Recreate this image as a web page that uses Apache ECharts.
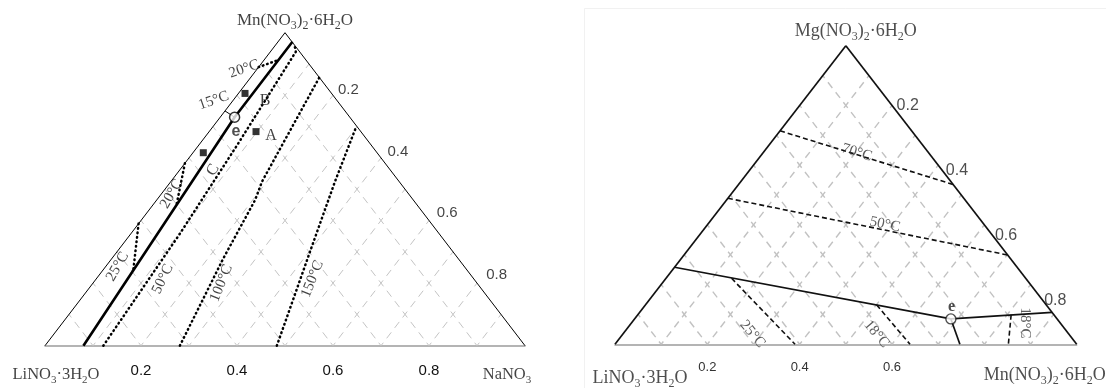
<!DOCTYPE html>
<html>
<head>
<meta charset="utf-8">
<script src="https://cdn.jsdelivr.net/npm/echarts@6/dist/echarts.min.js"></script>
<style>
  html, body { margin: 0; padding: 0; background: #fff; }
  #chart { width: 1106px; height: 388px; }
</style>
</head>
<body>
<div id="chart"></div>
<script>
// ---------- LiNO3·3H2O – NaNO3 – Mn(NO3)2·6H2O  ([NaNO3, Mn(NO3)2·6H2O] mass fractions) ----------
const naTicks = ['0.2', '0.4', '0.6', '0.8'];
const naEdgeTicks = [0.2, 0.4, 0.6, 0.8];
const naEutectic = [0.03, 0.73];
const naBoundary = [[0.08, 0], [0.03, 0.73], [0.03, 0.971]];
const naTie15 = [[0, 0.75], [0.03, 0.73]];
const naIso20Upper = [[0, 0.89], [0.03, 0.913]];
const naIso20Lower = [[0, 0.583], [0.049, 0.45]];
const naIso25 = [[0, 0.39], [0.063, 0.242]];
const naIso50 = [[0.1215, 0], [0.102, 0.359], [0.08, 0.64], [0.053, 0.939], [0.04, 0.96]];
const naIso100 = [[0.281, 0], [0.232, 0.279], [0.205, 0.4655], [0.19, 0.524], [0.143, 0.857]];
const naIso150 = [[0.483, 0], [0.402, 0.3], [0.342, 0.524], [0.298, 0.702]];
const naSampleNames = ['A', 'B', 'C'];
const naSamples = [[0.0976, 0.684], [0.0137, 0.806], [0.0215, 0.6166]];
const naIsoNames = ['20°C', '15°C', '20°C', '25°C', '50°C', '100°C', '150°C'];

// ---------- LiNO3·3H2O – Mn(NO3)2·6H2O – Mg(NO3)2·6H2O  ([Mn(NO3)2·6H2O, Mg(NO3)2·6H2O]) ----------
const mgTicks = ['0.2', '0.4', '0.6'];
const mgEdgeTicks = [0.2, 0.4, 0.6, 0.8];
const mgEutectic = [0.685, 0.085];
const mgIso70 = [[0, 0.715], [0.465, 0.535]];
const mgIso50 = [[0, 0.489], [0.701, 0.299]];
const mgBoundaryLi = [[0, 0.258], [0.685, 0.085]];
const mgBoundaryMn = [[0.685, 0.085], [0.893, 0.107]];
const mgBoundaryMg = [[0.685, 0.085], [0.747, 0]];
const mgIso25 = [[0.142, 0.221], [0.39, 0]];
const mgIso18Left = [[0.501, 0.1316], [0.639, 0]];
const mgIso18Right = [[0.8085, 0.099], [0.852, 0]];
const mgIsoNames = ['70°C', '50°C', '25°C', '18°C', '18°C'];

// ternary [bottom-right fraction, top fraction] -> plane coordinates of the triangle
const toXY = p => [p[0] + p[1] / 2, p[1]];

const SERIF = 'Liberation Serif';
const SANS = 'Liberation Sans';

function line(gi, pts, lineStyle, z) {
  return {
    type: 'line', xAxisIndex: gi, yAxisIndex: gi, data: pts.map(toXY),
    symbol: 'none', lineStyle: lineStyle, z: z || 3, silent: true, clip: false, animation: false
  };
}

function latticeSeries(gi, style) {
  const out = [];
  for (let i = 1; i < 10; i++) {
    const k = i / 10;
    out.push(line(gi, [[k, 0], [k, 1 - k]], style, 1));
    out.push(line(gi, [[1 - k, 0], [0, 1 - k]], style, 1));
  }
  return out;
}

function textSeries(gi, items, z) {
  return {
    type: 'scatter', xAxisIndex: gi, yAxisIndex: gi, symbolSize: 1,
    itemStyle: { color: 'rgba(0,0,0,0)' }, silent: true, clip: false, animation: false, z: z || 6,
    data: items.map(it => ({
      value: toXY(it.at),
      label: Object.assign({
        show: true, position: 'inside', formatter: it.text,
        rotate: it.rotate || 0, offset: it.offset || [0, 0]
      }, it.style)
    }))
  };
}

function formula(size, color) {
  const sub = Math.round(size * 0.68);
  return {
    m: { fontFamily: SERIF, fontSize: size, color: color, lineHeight: size + 5 },
    s: { fontFamily: SERIF, fontSize: sub, color: color, lineHeight: sub, verticalAlign: 'bottom' }
  };
}

const LiF = '{m|LiNO}{s|3}{m|·3H}{s|2}{m|O}';
const MnF = '{m|Mn(NO}{s|3}{m|)}{s|2}{m|·6H}{s|2}{m|O}';
const MgF = '{m|Mg(NO}{s|3}{m|)}{s|2}{m|·6H}{s|2}{m|O}';
const NaF = '{m|NaNO}{s|3}';

const dotted = { color: '#000', width: 2.5, type: [0.6, 3.9], cap: 'round' };
const dashedR = { color: '#111', width: 1.6, type: [5, 3] };
const isoText = { fontFamily: SERIF, fontSize: 15, color: '#111' };
const isoTextR = { fontFamily: SERIF, fontSize: 15, color: '#333' };

const series = [];

// ----- left panel -----
series.push(...latticeSeries(0, { color: '#c4c4c4', width: 1, type: [7.5, 5.6], dashOffset: 3.75 }));
series.push(line(0, [[0, 0], [0, 1]], { color: '#000', width: 1 }, 2));
series.push(line(0, [[1, 0], [0, 1]], { color: '#000', width: 1 }, 2));
series.push(line(0, naBoundary, { color: '#000', width: 2.6 }, 4));
series.push(line(0, naTie15, { color: '#000', width: 1 }, 4));
[naIso20Upper, naIso20Lower, naIso25, naIso50, naIso100, naIso150].forEach(d =>
  series.push(line(0, d, dotted, 3)));
series.push({
  type: 'scatter', xAxisIndex: 0, yAxisIndex: 0, symbol: 'rect', symbolSize: 7,
  itemStyle: { color: '#000' }, data: naSamples.map(toXY), z: 5, silent: true, animation: false
});
series.push({
  type: 'scatter', xAxisIndex: 0, yAxisIndex: 0, symbol: 'circle', symbolSize: 10,
  itemStyle: { color: '#fff', borderColor: '#000', borderWidth: 1.5 },
  data: [toXY(naEutectic)], z: 5, silent: true, animation: false
});
const naIsoAnchors = [[-0.027, 0.884], [-0.04, 0.783], [0.021, 0.485], [0.0245, 0.253], [0.139, 0.213], [0.2675, 0.2], [0.4507, 0.213]];
const naIsoRotate = [19, 19, 60, 60, 64, 68, 68];
series.push(textSeries(0, naIsoNames.map((t, i) => ({ at: naIsoAnchors[i], text: t, rotate: naIsoRotate[i], style: isoText }))));
const naSampleAnchors = [[0.1358, 0.67], [0.0674, 0.7818], [0.0693, 0.5613]];
const naSampleRotate = [0, 0, 60];
series.push(textSeries(0, naSampleNames.map((t, i) => ({ at: naSampleAnchors[i], text: t, rotate: naSampleRotate[i], style: { fontFamily: SERIF, fontSize: 16, color: '#111' } }))));
series.push(textSeries(0, [{ at: [0.0565, 0.6827], text: 'e', style: { fontFamily: SANS, fontSize: 16, fontWeight: 'bold', color: '#222' } }]));
series.push(textSeries(0, naEdgeTicks.map(t => ({
  at: [t, 1 - t], text: t.toFixed(1), offset: [5 + (t - 0.2) * 7, -5.6 - (t - 0.2) * 4],
  style: { fontFamily: SANS, fontSize: 15, color: '#111', align: 'left', verticalAlign: 'middle' }
}))));
series.push(textSeries(0, [
  { at: [0, 1], text: MnF, offset: [10, -12], style: { rich: formula(17, '#111') } },
  { at: [0, 0], text: LiF, offset: [11, 29], style: { rich: formula(16.5, '#111') } },
  { at: [1, 0], text: NaF, offset: [-18, 29], style: { rich: formula(16.5, '#111') } }
]));

// ----- right panel -----
series.push(...latticeSeries(1, { color: '#c2c2c2', width: 1.4, type: [7.2, 5.4], dashOffset: 3.6 }));
series.push(line(1, [[0, 0], [0, 1]], { color: '#111', width: 1.7 }, 2));
series.push(line(1, [[1, 0], [0, 1]], { color: '#111', width: 1.7 }, 2));
[mgBoundaryLi, mgBoundaryMn, mgBoundaryMg].forEach(d =>
  series.push(line(1, d, { color: '#111', width: 1.7 }, 4)));
[mgIso70, mgIso50, mgIso25, mgIso18Left, mgIso18Right].forEach(d =>
  series.push(line(1, d, dashedR, 3)));
series.push({
  type: 'scatter', xAxisIndex: 1, yAxisIndex: 1, symbol: 'circle', symbolSize: 10,
  itemStyle: { color: '#fff', borderColor: '#222', borderWidth: 1.4 },
  data: [toXY(mgEutectic)], z: 5, silent: true, animation: false
});
const mgIsoAnchors = [[0.203, 0.642], [0.384, 0.401], [0.2806, 0.0345], [0.549, 0.0345], [0.852, 0.0716]];
const mgIsoRotate = [-17, -12, -50, -50, -90];
series.push(textSeries(1, mgIsoNames.map((t, i) => ({ at: mgIsoAnchors[i], text: t, rotate: mgIsoRotate[i], style: isoTextR }))));
series.push(textSeries(1, [{ at: [0.6655, 0.1266], text: 'e', style: { fontFamily: SERIF, fontSize: 16, fontWeight: 'bold', color: '#222' } }]));
series.push(textSeries(1, mgEdgeTicks.map(t => ({
  at: [t, 1 - t], text: t.toFixed(1), offset: [4.6 + (t - 0.2) * 15, 0.6 + (t - 0.2) * 26],
  style: { fontFamily: SANS, fontSize: 16, color: '#222', align: 'left', verticalAlign: 'middle' }
}))));
series.push(textSeries(1, [
  { at: [0, 1], text: MgF, offset: [10, -14], style: { rich: formula(18, '#222') } },
  { at: [0, 0], text: LiF, offset: [25, 34], style: { rich: formula(18, '#222') } },
  { at: [1, 0], text: MnF, offset: [-93, 31], style: { align: 'left', rich: formula(18, '#222') } }
]));

function bottomAxis(gi, ticks, margin, size, color) {
  return {
    type: 'value', gridIndex: gi, min: 0, max: 1, interval: 0.2,
    axisLine: { show: true, lineStyle: { color: '#9c9c9c', width: 1.5 } },
    axisTick: { show: false }, splitLine: { show: false },
    axisLabel: {
      margin: margin, fontFamily: SANS, fontSize: size, color: color,
      formatter: v => { const s = v.toFixed(1); return ticks.includes(s) ? s : ''; }
    }
  };
}

const option = {
  backgroundColor: '#fff',
  animation: false,
  grid: [
    { left: 45, top: 32.7, width: 480, height: 313 },
    { left: 615, top: 45.7, width: 461.7, height: 298.6 }
  ],
  xAxis: [bottomAxis(0, naTicks, 18, 15, '#111'), bottomAxis(1, mgTicks, 17, 13, '#333')],
  yAxis: [
    { type: 'value', gridIndex: 0, min: 0, max: 1, show: false },
    { type: 'value', gridIndex: 1, min: 0, max: 1, show: false }
  ],
  graphic: [{
    type: 'rect', silent: true, z: -1,
    shape: { x: 584.5, y: 8.5, width: 540, height: 400 },
    style: { fill: 'none', stroke: '#f1f1f1', lineWidth: 1 }
  }],
  series: series
};

const chart = echarts.init(document.getElementById('chart'), null, { renderer: 'canvas' });
chart.setOption(option);
</script>
</body>
</html>
